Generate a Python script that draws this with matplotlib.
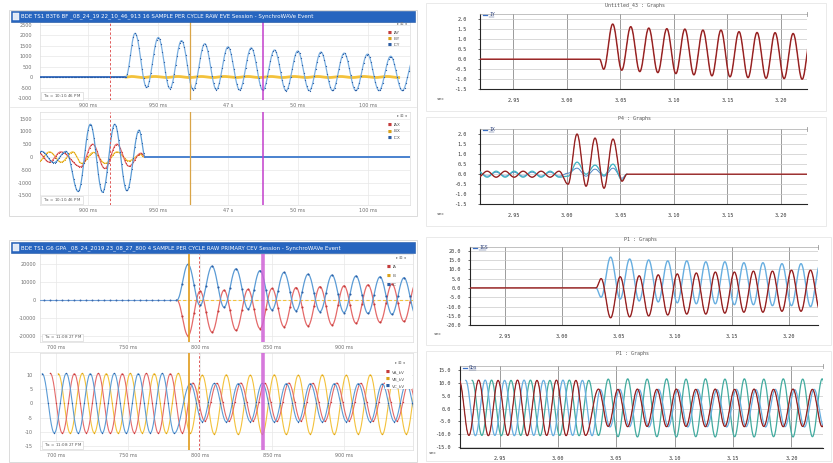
import numpy as np
import matplotlib
matplotlib.use("Agg")
import matplotlib.pyplot as plt
from matplotlib.patches import Rectangle
from matplotlib.lines import Line2D

# ======================= DATA =======================
# ---- left, upper group (time in ms, current in A) ----
L1_TITLE = "BDE TS1 B3T6 BF _08_24_19 22_10_46_913 16 SAMPLE PER CYCLE RAW EVE Session - SynchroWAVe Event"
L1_XTICKS = [900, 950, 1000, 1050, 1100]
L1_XLABELS = ["900 ms", "950 ms", "47 s", "50 ms", "100 ms"]
L1_YTICKS = [2500, 2000, 1500, 1000, 500, 0, -500, -1000]
L1_LEGEND = ["IAY", "IBY", "ICY"]
L1_ONSET = 927.0
L1_FIRST = 933.6
L1_HALF = 8.3
L1_ICY = [2100, -500, 1900, -550, 1750, -600, 1600, -600, 1450, -620, 1400, -630,
          1300, -650, 1250, -650, 1200, -650, 1150, -650, 1100, -650, 1000, -650, 900]
L1_IBY_FIRST = 931.0
L1_IBY = [30, -20, 30, -20, 30, -20, 30, -20, 30, -20, 30, -20,
          30, -20, 30, -20, 30, -20, 30, -20, 30, -20, 30, -20]
L1_TSTAMP = "10:10:46 PM"

L2_YTICKS = [1500, 1000, 500, 0, -500, -1000, -1500]
L2_LEGEND = ["IAX", "IBX", "ICX"]
L2_ICX_SEGS = [(858.2, 8.7, [-220, 220, -220, 220, -1350, 1280, -1380, 1280, -1320, 1050])]
L2_ICX_END = 940.8
L2_IAX_SEGS = [(864.0, 8.3, [200, -200, 200]),
               (894.8, 8.6, [-380, 500, -450, 500, -360, 150])]
L2_IAX_END = 941.0
L2_IBX_SEGS = [(864.2, 8.3, [-200, 200, -200, 200]),
               (895.5, 8.4, [-250, 180, -250, 200, -150, 100])]
L2_IBX_END = 940.0
EVENTS_1 = {"trigger": 916.0, "cursor1": 973.0, "cursor2": 1025.0}

# ---- left, lower group (time in ms) ----
L3_TITLE = "BDE TS1 G6 GPA _08_24_2019 23_08_27_800 4 SAMPLE PER CYCLE RAW PRIMARY CEV Session - SynchroWAVe Event"
L3_XTICKS = [700, 750, 800, 850, 900]
L3_XLABELS = ["700 ms", "750 ms", "800 ms", "850 ms", "900 ms"]
L3_YTICKS = [20000, 10000, 0, -10000, -20000]
L3_LEGEND = ["IA", "IB", "IC"]
L3_ONSET = 784.0
L3_FIRST = 791.7
L3_HALF = 8.33
L3_IC = [20000, -3000, 19000, -4000, 17500, -5000, 16500, -5500, 15500, -6000,
         14500, -6500, 14000, -7000, 13500, -7500, 13000, -8000, 12500, -8500]
L3_IA = [-20000, 5000, -18000, 5500, -17000, 6000, -16000, 6500, -15000, 7000,
         -14500, 7500, -14000, 8000, -13000, 8500, -12500, 9000, -12000, 9500]
L3_TSTAMP = "11:08:27 PM"

L4_YTICKS = [10, 5, 0, -5, -10, -15]
L4_LEGEND = ["VA_kV", "VB_kV", "VC_kV"]
L4_HALF = 8.333
L4_VC_SEGS = [(690.5, L4_HALF, [10.5, -10.4, 10.6, -10.5, 10.5, -10.4, 10.6, -10.5, 10.5, -10.4, 10.6, -10.5]),
              (793.3, L4_HALF, [7.0, -6.4, 7.1, -6.5, 7.0, -6.4, 7.1, -6.5, 7.0, -6.4,
                                7.0, -6.5, 7.0, -6.4, 7.0, -6.5, 6.9, -6.4, 7.0, -6.5])]
L4_VA_SEGS = [(696.1, L4_HALF, [10.6, -10.5, 10.5, -10.4, 10.6, -10.5, 10.5, -10.4, 10.6, -10.5, 10.5, -10.4]),
              (795.0, L4_HALF, [7.2, -6.2, 7.1, -6.3, 7.2, -6.2, 7.1, -6.3, 7.2, -6.2,
                                7.1, -6.3, 7.2, -6.2, 7.1, -6.3, 7.2, -6.2, 7.1, -6.3])]
L4_VB_SEGS = [(701.6, L4_HALF, [10.5, -10.5, 10.6, -10.4, 10.5, -10.5, 10.6, -10.4, 10.5, -10.5, 10.6, -10.5,
                                10.0, -10.8, 10.1, -10.9, 10.0, -10.8, 10.1, -10.9, 10.0, -10.8,
                                10.1, -10.9, 10.0, -10.8, 10.1, -10.9, 10.0, -10.8, 10.1])]
EVENTS_2 = {"cursor1": 792.4, "trigger": 799.3, "cursor2": 843.8}

# ---- right column (time in s) ----
R_XTICKS = [2.95, 3.00, 3.05, 3.10, 3.15, 3.20]
R_XLABELS = ["2.95", "3.00", "3.05", "3.10", "3.15", "3.20"]
R_TITLES = ["Untitled_43 : Graphs", "P4 : Graphs", "P1 : Graphs", "P1 : Graphs"]
R_LEGENDS = ["IY", "IX", "IGS", "Gbs"]
R12_YTICKS = [2.0, 1.5, 1.0, 0.5, 0.0, -0.5, -1.0, -1.5]
R3_YTICKS = [20.0, 15.0, 10.0, 5.0, 0.0, -5.0, -10.0, -15.0, -20.0]
R4_YTICKS = [15.0, 10.0, 5.0, 0.0, -5.0, -10.0, -15.0]

R1_ONSET = 3.0305
R1_SEGS = [(3.0343, 0.00843, [-0.5, 1.75, -0.55, 1.62, -0.62, 1.55, -0.67, 1.52, -0.72, 1.5, -0.78, 1.45,
                              -0.83, 1.45, -0.88, 1.37, -0.92, 1.33, -0.95, 1.32, -0.97, 1.28, -1.0, 1.25])]

R2_RED_SEGS = [(2.917, 0.0084, [-0.15, 0.15, -0.15, 0.15, -0.15, 0.15, -0.15, 0.15, -0.15, 0.15,
                                -0.5, 2.0, -0.6, 1.8, -0.7, 1.75, -0.35])]
R2_TEAL_SEGS = [(2.917, 0.0084, [0.15, -0.15, 0.15, -0.15, 0.15, -0.15, 0.15, -0.15, 0.15, -0.15,
                                 -0.1, 0.6, 0.0, 0.45, -0.05, 0.5, -0.3])]
R2_BLUE_SEGS = [(2.917, 0.0084, [0.1, -0.1, 0.1, -0.1, 0.1, -0.1, 0.1, -0.1, 0.1, -0.1,
                                 0.05, 0.3, -0.1, 0.25, -0.1, 0.3, -0.2])]
R2_END = 3.056

R3_ONSET = 3.030
R3_BLUE_SEGS = [(3.0345, 0.0084, [-5, 16.5, -6, 15.5, -7, 15, -7.5, 14.5, -8, 14.5, -8.5, 14,
                                  -8.5, 14, -9, 13.5, -9, 13.5, -9.5, 13, -9.5, 13, -10, 12.5])]
R3_RED_SEGS = [(3.0345, 0.0084, [5, -16, 6, -15.5, 6.5, -15, 7, -14.5, 7.5, -14, 8, -14,
                                 8.5, -13.5, 8.5, -13, 9, -13, 9, -12.5, 9.5, -12.5, 9.5, -12])]

R4_HALF = 0.008333
R4_RED_SEGS = [(2.9153, R4_HALF, [11.0, -10.5, 11.1, -10.6, 11.0, -10.5, 11.1, -10.6, 11.0, -10.5, 11.1, -10.6, 11.0, -10.5]),
               (3.0347, R4_HALF, [7.6, -7.0, 7.5, -7.1, 7.6, -7.0, 7.5, -7.1, 7.6, -7.0, 7.5, -7.1, 7.6,
                                  -7.0, 7.5, -7.1, 7.6, -7.0, 7.5, -7.1, 7.6, -7.0, 7.5, -7.1, 7.6])]
R4_BLUE_SEGS = [(2.9209, R4_HALF, [11.0, -10.6, 11.1, -10.5, 11.0, -10.6, 11.1, -10.5, 11.0, -10.6, 11.1, -10.5, 11.0, -10.6]),
                (3.0362, R4_HALF, [7.4, -7.2, 7.5, -7.1, 7.4, -7.2, 7.5, -7.1, 7.4, -7.2, 7.5, -7.1, 7.4,
                                   -7.2, 7.5, -7.1, 7.4, -7.2, 7.5, -7.1, 7.4, -7.2, 7.5, -7.1, 7.4])]
R4_TEAL_SEGS = [(2.9264, R4_HALF, [11.0, -10.5, 11.1, -10.6, 11.0, -10.5, 11.1, -10.6, 11.0, -10.5, 11.1, -10.6, 11.0, -10.5,
                                   11.5, -11.0, 11.6, -11.1, 11.5, -11.0, 11.6, -11.1, 11.5, -11.0, 11.6, -11.1,
                                   11.5, -11.0, 11.6, -11.1, 11.5, -11.0, 11.6, -11.1, 11.5, -11.0, 11.6, -11.1])]

# ======================= FIGURE =======================
W, H = 833, 463
fig = plt.figure(figsize=(W / 100, H / 100), dpi=100)
fig.patch.set_facecolor("white")


def rect(x0, y0, x1, y1):
    return [x0 / W, 1 - y1 / H, (x1 - x0) / W, (y1 - y0) / H]


def pbox(x0, y0, x1, y1, fc="none", ec="#d4d4d4", lw=0.5, z=1):
    fig.patches.append(Rectangle((x0 / W, 1 - y1 / H), (x1 - x0) / W, (y1 - y0) / H,
                                 transform=fig.transFigure, facecolor=fc, edgecolor=ec, lw=lw, zorder=z))


def ptext(x, y, s, **kw):
    kw.setdefault("va", "center")
    return fig.text(x / W, 1 - y / H, s, **kw)


def pline(x0, y0, x1, y1, **kw):
    fig.add_artist(Line2D([x0 / W, x1 / W], [1 - y0 / H, 1 - y1 / H], transform=fig.transFigure, **kw))


def build(segs, left, right, onset=None, end=None, n=24):
    pts = []
    if onset is not None:
        pts += [(left, 0.0), (onset, 0.0)]
    for t0, hp, vals in segs:
        pts += [(t0 + k * hp, float(v)) for k, v in enumerate(vals)]
    if end is not None:
        pts += [(end, 0.0), (right, 0.0)]
    ts = np.array([p[0] for p in pts])
    vs = np.array([p[1] for p in pts])
    s = np.linspace(0, 1, n, endpoint=False)
    T, V = [], []
    for i in range(len(ts) - 1):
        T.append(ts[i] + (ts[i + 1] - ts[i]) * s)
        V.append(vs[i] + (vs[i + 1] - vs[i]) * (1 - np.cos(np.pi * s)) / 2)
    T.append([ts[-1]])
    V.append([vs[-1]])
    return np.concatenate(T), np.concatenate(V)


def left_axes(box, xlim, ylim, xticks, xlabels, yticks, ypad=5.5):
    ax = fig.add_axes(rect(*box))
    ax.set_xlim(*xlim)
    ax.set_ylim(*ylim)
    ax.set_xticks(xticks)
    ax.set_xticklabels(xlabels)
    ax.set_yticks(yticks)
    ax.set_yticklabels([f"{v:g}" for v in yticks])
    ax.tick_params(length=0, labelsize=3.5, labelcolor="#6e6e6e", pad=2)
    ax.tick_params(axis="y", pad=ypad)
    ax.grid(True, color="#e8e8e8", lw=0.5)
    ax.set_axisbelow(True)
    for s in ax.spines.values():
        s.set_color("#dddddd")
        s.set_linewidth(0.5)
    return ax


def left_legend(x, y0, dy, names, colors):
    ptext(x + 12, y0 - 9, "\u25B8 \u229E \u25C2", fontsize=2.8, color="#777777", ha="center")
    for i, (nm, c) in enumerate(zip(names, colors)):
        ptext(x, y0 + i * dy, "\u25A0", fontsize=3.0, color=c, ha="center")
        ptext(x + 3.5, y0 + i * dy, nm, fontsize=3.0, color="#555555", ha="left")


def tstamp(ax, x0, y0, x1, y1, txt):
    pbox(x0, y0, x1, y1, fc="white", ec="#cfcfcf", lw=0.4, z=3)
    ptext(x0 + 2, (y0 + y1) / 2, r"T$_{ss}$ = " + txt, fontsize=2.9, color="#555555", ha="left", zorder=4)


def title_bar(x0, y0, x1, y1, txt):
    pbox(x0, y0, x1, y1, fc="#2765bf", ec="#1f56a6", lw=0.4, z=2)
    pbox(x0 + 1.5, y0 + 2, x0 + 7.5, y1 - 2, fc="#dfe8f6", ec="white", lw=0.3, z=3)
    ptext(x0 + 10, (y0 + y1) / 2 + 0.3, txt, fontsize=4.0, color="white", ha="left", zorder=4)


RED, YEL, BLU = "#e46a6a", "#f3c23c", "#5b9bd5"
RED_D, YEL_D, BLU_D = "#c43b3b", "#d9a21a", "#2d5da3"

# ---------- left upper group ----------
pbox(9, 10, 417, 216, ec="#d6d6d6", lw=0.6)
pline(10, 107, 416, 107, color="#e2e2e2", lw=0.5)
title_bar(11, 11, 415, 21.5, L1_TITLE)

xl1 = (865.7, 1130.0)
ax1 = left_axes((40, 22, 410, 100), xl1, (-1098, 2641), L1_XTICKS, L1_XLABELS, L1_YTICKS)
t, v = build([(L1_IBY_FIRST, L1_HALF, L1_IBY)], *xl1, onset=L1_ONSET)
ax1.plot(t[t >= L1_ONSET], v[t >= L1_ONSET], color=YEL, lw=2.0, zorder=3)
t, v = build([(L1_FIRST, L1_HALF, L1_ICY)], *xl1, onset=L1_ONSET)
pre = t <= L1_ONSET
ax1.plot(t[pre], v[pre], color="#3f74c4", lw=1.4, zorder=4)
ax1.plot(t[~pre], v[~pre], color="#79aee0", lw=0.9, zorder=4)
ts = np.arange(xl1[0], xl1[1], 16.667 / 16)
ax1.plot(ts, np.interp(ts, t, v), ls="none", marker="o", ms=0.9, mew=0, color=BLU_D, zorder=5)
ax1.axvline(EVENTS_1["trigger"], color="#e05a5a", lw=0.7, ls=(0, (2.5, 2)), zorder=6)
ax1.axvline(EVENTS_1["cursor1"], color="#d9a447", lw=0.9, zorder=6)
ax1.axvline(EVENTS_1["cursor2"], color="#c23fcb", lw=1.1, zorder=6)
left_legend(390, 33, 6, L1_LEGEND, [RED_D, YEL_D, BLU_D])
tstamp(ax1, 41, 92, 83, 99.5, L1_TSTAMP)

ax2 = left_axes((40, 112, 410, 205), xl1, (-1875, 1758), L1_XTICKS, L1_XLABELS, L2_YTICKS)
for segs, end, c, cd, z in [(L2_IBX_SEGS, L2_IBX_END, YEL, YEL_D, 3),
                            (L2_IAX_SEGS, L2_IAX_END, RED, RED_D, 4),
                            (L2_ICX_SEGS, L2_ICX_END, BLU, BLU_D, 5)]:
    t, v = build(segs, *xl1, end=end)
    m = t <= end
    ax2.plot(t[m], v[m], color=c, lw=0.9, zorder=z)
    ts = np.arange(xl1[0], end, 16.667 / 16)
    ax2.plot(ts, np.interp(ts, t, v), ls="none", marker="o", ms=0.8, mew=0, color=cd, zorder=z)
t, v = build(L2_ICX_SEGS, *xl1, end=L2_ICX_END)
m = t >= L2_ICX_END
ax2.plot(t[m], v[m], color="#4a82cf", lw=1.4, zorder=5)
ax2.axvline(EVENTS_1["trigger"], color="#e05a5a", lw=0.7, ls=(0, (2.5, 2)), zorder=6)
ax2.axvline(EVENTS_1["cursor1"], color="#d9a447", lw=0.9, zorder=6)
ax2.axvline(EVENTS_1["cursor2"], color="#c23fcb", lw=1.1, zorder=6)
left_legend(390, 125, 6.5, L2_LEGEND, [RED_D, YEL_D, BLU_D])
tstamp(ax2, 41, 196, 83, 204, L1_TSTAMP)

# ---------- left lower group ----------
pbox(9, 240, 417, 462, ec="#d6d6d6", lw=0.6)
pline(10, 352, 416, 352, color="#e2e2e2", lw=0.5)
title_bar(11, 242, 415, 253, L3_TITLE)

xl3 = (688.9, 947.9)
ax3 = left_axes((40, 254, 413, 342), xl3, (-23500, 25800), L3_XTICKS, L3_XLABELS, L3_YTICKS, ypad=3)
ax3.plot([L3_ONSET, xl3[1]], [0, 0], color=YEL, lw=0.8, ls=(0, (3, 2)), zorder=3)
tsamp = L3_FIRST + (L3_HALF / 2) * np.arange(-26, 40)
for vals, c, cd, z in [(L3_IA, RED, RED_D, 4), (L3_IC, BLU, BLU_D, 5)]:
    t, v = build([(L3_FIRST, L3_HALF, vals)], *xl3, onset=L3_ONSET)
    m = t >= L3_ONSET
    ax3.plot(t[m], v[m], color=c, lw=0.9, zorder=z)
    ts = tsamp[tsamp >= L3_ONSET]
    ax3.plot(ts, np.interp(ts, t, v), ls="none", marker="o", ms=1.5, mew=0, color=cd, zorder=z)
ts = tsamp[tsamp < L3_ONSET]
ax3.plot([xl3[0], L3_ONSET], [0, 0], color="#6f9fd8", lw=0.8, zorder=4)
ax3.plot(ts, np.zeros_like(ts), ls="none", marker="o", ms=1.4, mew=0, color="#3b68aa", zorder=5)
ax3.axvline(EVENTS_2["cursor1"], color="#e3a22c", lw=1.3, zorder=6)
ax3.axvline(EVENTS_2["trigger"], color="#e05a5a", lw=0.7, ls=(0, (2.5, 2)), zorder=6)
ax3.axvline(EVENTS_2["cursor2"], color="#cf62d6", lw=2.6, alpha=0.85, zorder=6)
left_legend(389, 267, 9, L3_LEGEND, [RED_D, YEL_D, BLU_D])
tstamp(ax3, 42, 334, 83, 341, L3_TSTAMP)

ax4 = left_axes((40, 353, 413, 450), xl3, (-16.4, 17.8), L3_XTICKS, L3_XLABELS, L4_YTICKS, ypad=5)
for segs, c, cd, z in [(L4_VB_SEGS, YEL, YEL_D, 3), (L4_VA_SEGS, RED, RED_D, 4), (L4_VC_SEGS, BLU, BLU_D, 5)]:
    t, v = build(segs, *xl3)
    ax4.plot(t, v, color=c, lw=0.8, zorder=z)
    tk = []
    for t0, hp, vals in segs:
        tk += list(t0 + (hp / 2) * np.arange(2 * len(vals) - 1))
    tk = np.array(tk)
    ax4.plot(tk, np.interp(tk, t, v), ls="none", marker="o", ms=1.0, mew=0, color=cd, zorder=z)
ax4.axvline(EVENTS_2["cursor1"], color="#e3a22c", lw=1.3, zorder=6)
ax4.axvline(EVENTS_2["trigger"], color="#e05a5a", lw=0.7, ls=(0, (2.5, 2)), zorder=6)
ax4.axvline(EVENTS_2["cursor2"], color="#cf62d6", lw=2.6, alpha=0.85, zorder=6)
pbox(385, 369, 412, 389, fc="white", ec="none", lw=0, z=2)
left_legend(388, 372, 7, L4_LEGEND, [RED_D, YEL_D, BLU_D])
tstamp(ax4, 42, 441, 83, 448.5, L3_TSTAMP)


# ---------- right column ----------
def right_axes(box, xlim, ylim, yticks, ypad):
    ax = fig.add_axes(rect(*box))
    ax.set_xlim(*xlim)
    ax.set_ylim(*ylim)
    ax.set_xticks(R_XTICKS)
    ax.set_xticklabels(R_XLABELS)
    ax.set_yticks(yticks)
    ax.set_yticklabels([f"{v:.1f}" for v in yticks])
    ax.tick_params(labelsize=3.7, labelcolor="#333333", length=1.5, width=0.5, color="#333333")
    ax.tick_params(axis="x", pad=6, length=0)
    ax.tick_params(axis="y", pad=ypad)
    for lab in ax.get_xticklabels() + ax.get_yticklabels():
        lab.set_family("DejaVu Sans Mono")
    for tt in R_XTICKS:
        ax.axvline(tt, color="#8c8c8c", lw=0.6, zorder=0.5)
    for yy in yticks:
        ax.axhline(yy, color="#c9c9c9", lw=0.5, zorder=0.5)
    ax.spines["right"].set_visible(False)
    ax.spines["top"].set_color("#a8a8a8")
    ax.spines["top"].set_linewidth(0.5)
    for k in ("left", "bottom"):
        ax.spines[k].set_color("#262626")
        ax.spines[k].set_linewidth(0.8)
    return ax


def right_chrome(frame, title, title_xy, leg_xy, leg, sec_xy, top_right):
    pbox(*frame, ec="#e2e2e2", lw=0.5)
    ptext(title_xy[0], title_xy[1], title, fontsize=3.6, color="#555555", ha="center", family="DejaVu Sans Mono")
    x, y = leg_xy
    pline(x, y, x + 4, y, color="#3a6fc4", lw=0.9)
    ptext(x + 6, y, leg, fontsize=3.4, color="#2a3f7a", ha="left", family="DejaVu Sans Mono")
    pline(x + 6, y + 2.2, x + 6 + 2.3 * len(leg), y + 2.2, color="#2a3f7a", lw=0.3)
    pline(top_right[0], top_right[1] - 2, top_right[0], top_right[1] + 2, color="#9a9a9a", lw=0.6)
    ptext(sec_xy[0], sec_xy[1], "sec", fontsize=3.2, color="#444444", ha="center", family="DejaVu Sans Mono")


RR = "#b73a3a"
RD = "#6b1010"
TEAL = "#3fb2c2"
LBLU = "#67aee0"

# R1
xr1 = (2.9187, 3.2243)
right_chrome((426, 3, 826, 111), R_TITLES[0], (635, 5.5), (483, 14.5), R_LEGENDS[0], (440, 99), (807, 14))
r1 = right_axes((480, 14, 807, 89.3), xr1, (-1.5, 2.25), R12_YTICKS, 8)
t, v = build(R1_SEGS, *xr1, onset=R1_ONSET)
r1.plot(t, v, color=RR, lw=1.1, zorder=3)
r1.plot(t, v, color=RD, lw=0.35, zorder=4)

# R2
right_chrome((426, 117, 826, 226), R_TITLES[1], (635, 118.5), (483, 129.5), R_LEGENDS[1], (440, 214), (807, 129))
r2 = right_axes((480, 129, 807, 204.3), xr1, (-1.5, 2.25), R12_YTICKS, 8)
for segs, c, lw, z in [(R2_BLUE_SEGS, "#4f86c6", 0.7, 3), (R2_TEAL_SEGS, TEAL, 0.9, 4)]:
    t, v = build(segs, *xr1, end=R2_END)
    m = t <= R2_END
    r2.plot(t[m], v[m], color=c, lw=lw, zorder=z)
t, v = build(R2_RED_SEGS, *xr1, end=R2_END)
r2.plot(t, v, color=RR, lw=1.0, zorder=5)
r2.plot(t, v, color=RD, lw=0.35, zorder=5.5)

# R3
xr3 = (2.9188, 3.2259)
right_chrome((426, 237, 831, 345), R_TITLES[2], (640, 239.5), (473, 247.5), R_LEGENDS[2], (437, 334), (818, 247))
r3 = right_axes((470, 247, 818, 325.3), xr3, (-20.0, 21.9), R3_YTICKS, 5)
t, v = build(R3_BLUE_SEGS, *xr3, onset=R3_ONSET)
r3.plot(t[t >= R3_ONSET], v[t >= R3_ONSET], color=LBLU, lw=1.0, zorder=3)
t, v = build(R3_RED_SEGS, *xr3, onset=R3_ONSET)
r3.plot(t, v, color=RR, lw=1.0, zorder=4)
r3.plot(t, v, color=RD, lw=0.35, zorder=5)

# R4
xr4 = (2.916, 3.2271)
right_chrome((426, 351, 831, 461), R_TITLES[3], (633, 353.5), (463, 367.5), R_LEGENDS[3], (432, 453), (823, 366))
r4 = right_axes((460, 366, 823, 448), xr4, (-15.4, 16.6), R4_YTICKS, 5)
for segs, c, z in [(R4_TEAL_SEGS, "#42ab9f", 3), (R4_BLUE_SEGS, LBLU, 4)]:
    t, v = build(segs, *xr4)
    r4.plot(t, v, color=c, lw=0.9, zorder=z)
t, v = build(R4_RED_SEGS, *xr4)
r4.plot(t, v, color=RR, lw=0.9, zorder=5)
r4.plot(t, v, color=RD, lw=0.35, zorder=5.5)

fig.savefig("out.png", dpi=100, facecolor="white")
